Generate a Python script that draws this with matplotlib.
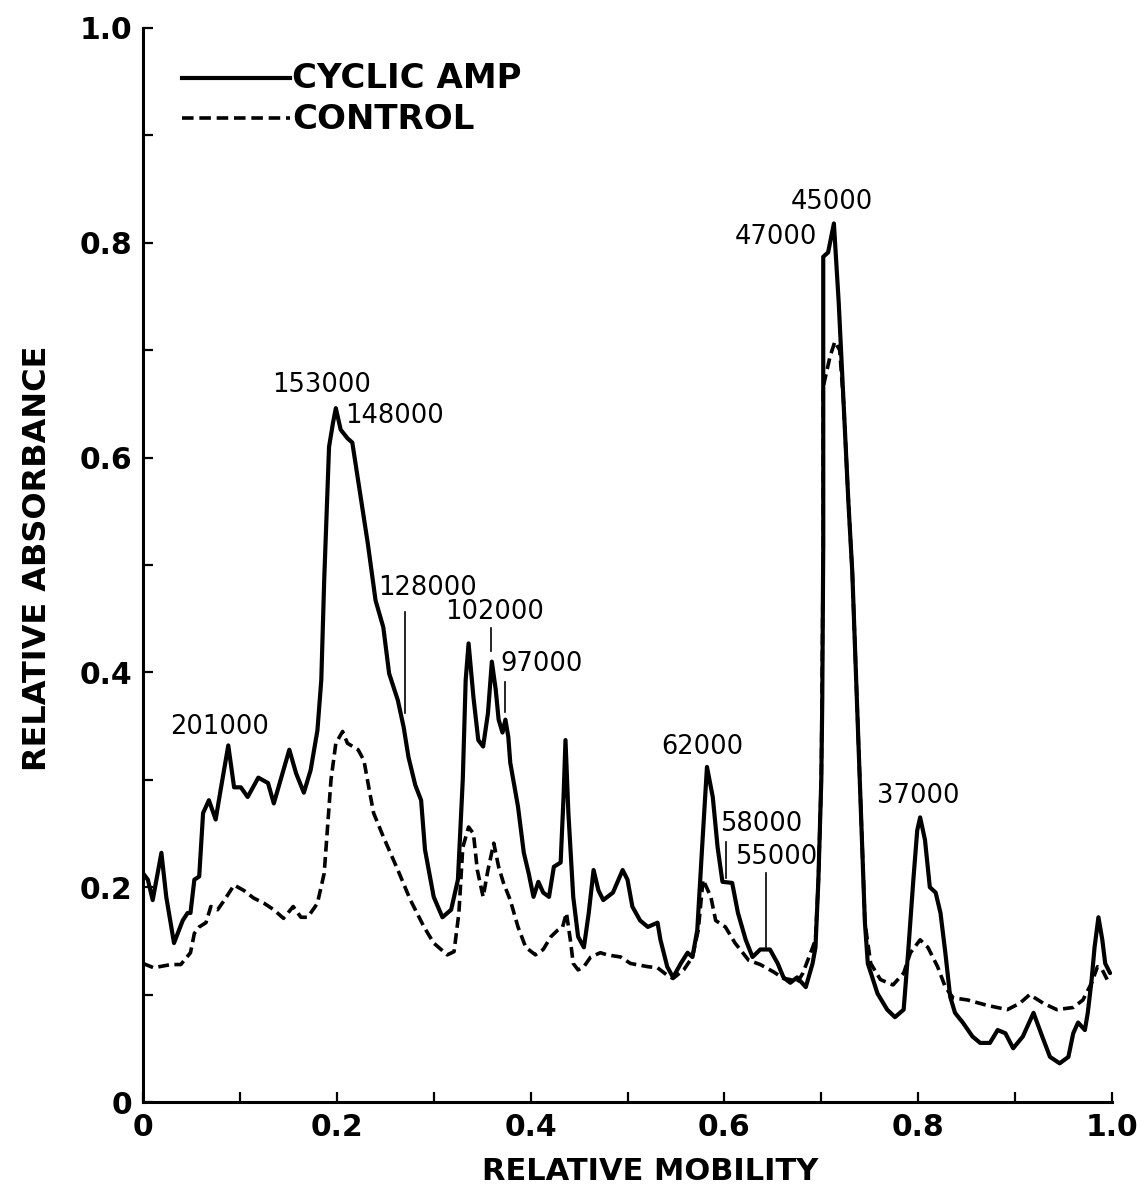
import matplotlib
matplotlib.use("Agg")
import matplotlib.pyplot as plt
from matplotlib.ticker import MultipleLocator, FuncFormatter

# ---------------- data ----------------
cyclic_x = [0.000, 0.005, 0.010, 0.019, 0.024, 0.032, 0.041, 0.046, 0.049, 0.053, 0.058, 0.062,
            0.068, 0.075, 0.080, 0.088, 0.094, 0.101, 0.108, 0.119, 0.129, 0.135, 0.142, 0.151,
            0.158, 0.166, 0.173, 0.180, 0.184, 0.187, 0.192, 0.196, 0.199, 0.204, 0.211, 0.216,
            0.223, 0.232, 0.240, 0.248, 0.254, 0.263, 0.269, 0.274, 0.281, 0.287, 0.291, 0.300,
            0.309, 0.318, 0.325, 0.330, 0.333, 0.336, 0.341, 0.346, 0.351, 0.356, 0.360, 0.364,
            0.367, 0.371, 0.374, 0.377, 0.379, 0.387, 0.393, 0.398, 0.403, 0.408, 0.413, 0.419,
            0.424, 0.431, 0.434, 0.436, 0.439, 0.444, 0.449, 0.455, 0.460, 0.465, 0.470, 0.475,
            0.485, 0.495, 0.500, 0.505, 0.513, 0.521, 0.531, 0.534, 0.541, 0.547, 0.555, 0.562,
            0.567, 0.572, 0.577, 0.582, 0.588, 0.593, 0.598, 0.608, 0.614, 0.622, 0.629, 0.637,
            0.647, 0.655, 0.661, 0.668, 0.675, 0.684, 0.691, 0.694, 0.697, 0.700, 0.701, 0.702,
            0.702, 0.707, 0.713, 0.718, 0.723, 0.728, 0.732, 0.737, 0.742, 0.745, 0.748, 0.758,
            0.768, 0.776, 0.785, 0.790, 0.795, 0.799, 0.802, 0.807, 0.812, 0.818, 0.823, 0.828,
            0.833, 0.838, 0.846, 0.856, 0.864, 0.874, 0.882, 0.890, 0.898, 0.908, 0.919, 0.928,
            0.936, 0.946, 0.955, 0.960, 0.965, 0.972, 0.975, 0.979, 0.982, 0.986, 0.990, 0.993,
            0.998]
cyclic_y = [0.213, 0.207, 0.188, 0.232, 0.191, 0.148, 0.169, 0.176, 0.176, 0.207, 0.210, 0.269,
            0.281, 0.263, 0.290, 0.332, 0.293, 0.293, 0.284, 0.302, 0.297, 0.278, 0.300, 0.328,
            0.306, 0.288, 0.309, 0.346, 0.393, 0.486, 0.610, 0.632, 0.646, 0.626, 0.618, 0.614,
            0.573, 0.520, 0.467, 0.442, 0.399, 0.374, 0.349, 0.321, 0.295, 0.281, 0.235, 0.191,
            0.172, 0.179, 0.207, 0.300, 0.393, 0.427, 0.377, 0.337, 0.331, 0.362, 0.410, 0.384,
            0.356, 0.344, 0.356, 0.340, 0.316, 0.275, 0.232, 0.213, 0.191, 0.205, 0.195, 0.191,
            0.219, 0.223, 0.284, 0.337, 0.269, 0.191, 0.154, 0.144, 0.176, 0.216, 0.197, 0.188,
            0.195, 0.216, 0.207, 0.182, 0.169, 0.163, 0.167, 0.151, 0.126, 0.116, 0.129, 0.139,
            0.135, 0.160, 0.237, 0.312, 0.284, 0.237, 0.205, 0.204, 0.176, 0.151, 0.135, 0.142,
            0.142, 0.129, 0.116, 0.111, 0.116, 0.107, 0.129, 0.144, 0.207, 0.300, 0.374, 0.517,
            0.787, 0.791, 0.818, 0.744, 0.651, 0.558, 0.493, 0.368, 0.244, 0.167, 0.129, 0.101,
            0.086, 0.079, 0.086, 0.144, 0.207, 0.253, 0.265, 0.244, 0.200, 0.195, 0.176, 0.139,
            0.098, 0.083, 0.074, 0.061, 0.055, 0.055, 0.067, 0.064, 0.050, 0.061, 0.083, 0.061,
            0.042, 0.036, 0.042, 0.064, 0.074, 0.067, 0.083, 0.114, 0.144, 0.172, 0.151, 0.129,
            0.120]

control_x = [0.000, 0.011, 0.029, 0.039, 0.049, 0.053, 0.058, 0.065, 0.070, 0.077, 0.084, 0.094,
             0.104, 0.114, 0.125, 0.135, 0.145, 0.155, 0.163, 0.170, 0.180, 0.187, 0.194, 0.199,
             0.206, 0.211, 0.222, 0.228, 0.233, 0.238, 0.248, 0.263, 0.276, 0.290, 0.300, 0.314,
             0.321, 0.326, 0.330, 0.336, 0.341, 0.345, 0.351, 0.356, 0.362, 0.367, 0.372, 0.379,
             0.387, 0.395, 0.405, 0.413, 0.421, 0.428, 0.433, 0.437, 0.441, 0.444, 0.449, 0.455,
             0.462, 0.472, 0.479, 0.493, 0.503, 0.521, 0.531, 0.541, 0.547, 0.558, 0.567, 0.573,
             0.578, 0.586, 0.591, 0.601, 0.611, 0.625, 0.637, 0.651, 0.661, 0.668, 0.675, 0.681,
             0.689, 0.694, 0.697, 0.700, 0.702, 0.702, 0.709, 0.714, 0.719, 0.723, 0.728, 0.732,
             0.737, 0.742, 0.745, 0.751, 0.761, 0.774, 0.785, 0.792, 0.802, 0.810, 0.820, 0.828,
             0.836, 0.851, 0.871, 0.892, 0.905, 0.915, 0.929, 0.943, 0.960, 0.970, 0.979, 0.985,
             0.990, 0.995]
control_y = [0.129, 0.125, 0.128, 0.128, 0.139, 0.157, 0.163, 0.167, 0.182, 0.179, 0.188, 0.202,
             0.197, 0.190, 0.185, 0.179, 0.171, 0.182, 0.172, 0.172, 0.185, 0.213, 0.300, 0.334,
             0.345, 0.334, 0.328, 0.318, 0.293, 0.269, 0.247, 0.216, 0.188, 0.163, 0.148, 0.137,
             0.140, 0.176, 0.237, 0.256, 0.250, 0.216, 0.191, 0.216, 0.241, 0.219, 0.204, 0.188,
             0.163, 0.144, 0.137, 0.142, 0.154, 0.160, 0.163, 0.176, 0.151, 0.129, 0.123, 0.126,
             0.135, 0.139, 0.137, 0.135, 0.129, 0.126, 0.125, 0.118, 0.115, 0.123, 0.135, 0.160,
             0.207, 0.191, 0.169, 0.163, 0.148, 0.132, 0.128, 0.121, 0.115, 0.114, 0.111, 0.120,
             0.139, 0.151, 0.207, 0.300, 0.517, 0.666, 0.694, 0.708, 0.700, 0.651, 0.558, 0.493,
             0.368, 0.244, 0.167, 0.129, 0.114, 0.109, 0.120, 0.139, 0.151, 0.144, 0.126, 0.107,
             0.097, 0.095, 0.090, 0.086, 0.092, 0.100, 0.092, 0.086, 0.088, 0.095, 0.111, 0.126,
             0.123, 0.114]

band_labels = ["201000", "153000", "148000", "128000", "102000", "97000",
               "62000", "58000", "55000", "47000", "45000", "37000"]
band_label_x = [0.079, 0.184, 0.260, 0.294, 0.363, 0.411, 0.577, 0.638, 0.653, 0.653, 0.711, 0.800]
band_label_y = [0.349, 0.668, 0.639, 0.479, 0.456, 0.408, 0.331, 0.259, 0.228, 0.805, 0.838, 0.285]

marker_x = [0.270, 0.359, 0.374, 0.602, 0.643]
marker_y0 = [0.362, 0.420, 0.363, 0.209, 0.144]
marker_y1 = [0.456, 0.441, 0.391, 0.242, 0.213]

series_names = ["CYCLIC AMP", "CONTROL"]
x_label = "RELATIVE MOBILITY"
y_label = "RELATIVE ABSORBANCE"

# ---------------- figure ----------------
W, H = 1141, 1200
fig = plt.figure(figsize=(W / 100, H / 100), dpi=100)
ax = fig.add_axes([143 / W, 1 - 1102 / H, (1112 - 143) / W, (1102 - 28) / H])

dash = (0, (3.0, 1.5))
ax.plot(control_x, control_y, color="black", lw=2.6, linestyle=dash,
        solid_joinstyle="round", dash_capstyle="butt")
ax.plot(cyclic_x, cyclic_y, color="black", lw=3.0, solid_joinstyle="round",
        solid_capstyle="round")

for t, x, y in zip(band_labels, band_label_x, band_label_y):
    ax.text(x, y, t, ha="center", va="center", fontsize=18.5, color="black")
for x, y0, y1 in zip(marker_x, marker_y0, marker_y1):
    ax.plot([x, x], [y0, y1], color="black", lw=1.2)

# legend drawn by hand (as in the original figure)
ax.plot([0.040, 0.152], [0.953, 0.953], transform=ax.transAxes, color="black", lw=3.0)
ax.plot([0.040, 0.152], [0.916, 0.916], transform=ax.transAxes, color="black", lw=2.6,
        linestyle=(0, (3.2, 1.6)), dash_capstyle="butt")
ax.text(0.154, 0.953, series_names[0], transform=ax.transAxes, ha="left", va="center",
        fontsize=24.5, fontweight="bold")
ax.text(0.154, 0.915, series_names[1], transform=ax.transAxes, ha="left", va="center",
        fontsize=24.5, fontweight="bold")

ax.set_xlim(0, 1.0)
ax.set_ylim(0, 1.0)
for s in ["top", "right"]:
    ax.spines[s].set_visible(False)
for s in ["left", "bottom"]:
    ax.spines[s].set_linewidth(2.2)

fmt = FuncFormatter(lambda v, p: "0" if abs(v) < 1e-9 else f"{v:.1f}")
for axis in (ax.xaxis, ax.yaxis):
    axis.set_major_locator(MultipleLocator(0.2))
    axis.set_minor_locator(MultipleLocator(0.1))
    axis.set_major_formatter(fmt)
ax.tick_params(which="both", direction="in", length=7.5, width=1.6)
ax.tick_params(axis="x", which="major", pad=8, labelsize=21.5)
ax.tick_params(axis="y", which="major", pad=8, labelsize=21.5)
for lab in ax.get_xticklabels() + ax.get_yticklabels():
    lab.set_fontweight("bold")

fig.text(650 / W, 1 - 1172 / H, x_label, ha="center", va="center", fontsize=22, fontweight="bold")
fig.text(38 / W, 1 - 558 / H, y_label, ha="center", va="center", rotation=90,
         fontsize=23, fontweight="bold")

fig.savefig("out.png", dpi=100)
